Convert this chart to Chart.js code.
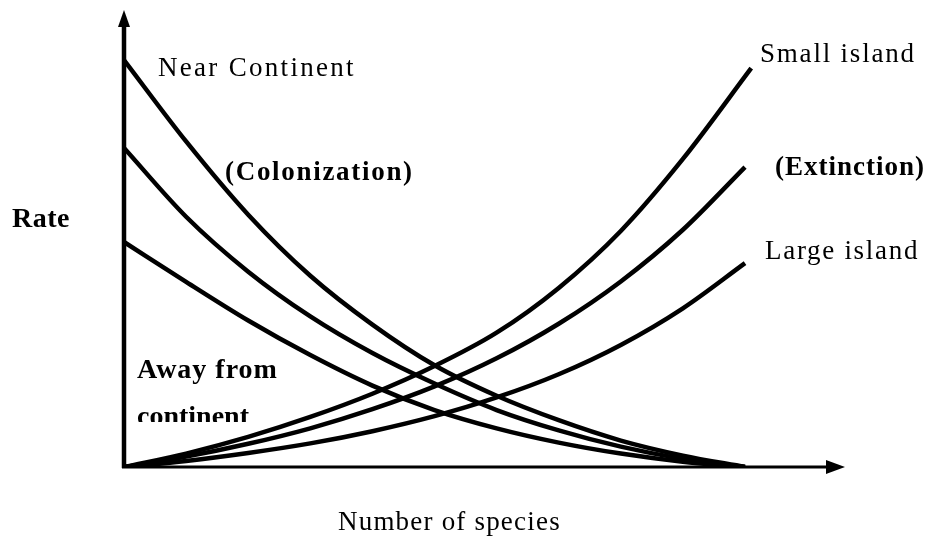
<!DOCTYPE html>
<html>
<head>
<meta charset="utf-8">
<script src="https://cdn.jsdelivr.net/npm/chart.js@4"></script>
<style>
  body { margin: 0; background: #fff; }
  #wrap { width: 928px; height: 537px; }
</style>
</head>
<body>
<div id="wrap"><canvas id="islandChart" width="928" height="537"></canvas></div>
<script>
// species count (x) at which each curve was read
var speciesX = [0, 10, 20, 30, 40, 50, 60, 70, 80, 90, 100];
var smallX   = [0, 10, 20, 30, 40, 50, 60, 70, 80, 90, 101];

// colonization (immigration) rates
var nearContinent = [100, 80, 62, 47, 35, 25, 17.5, 11.5, 6.5, 2.8, 0];
var midColonize   = [78.4, 61.5, 48, 37, 28, 20.5, 14, 9, 5, 2, 0];
var awayContinent = [55.3, 45.5, 36, 27.5, 20, 14, 9.5, 6, 3.3, 1.3, 0];

// extinction rates
var smallIsland   = [0, 3.3, 7.4, 12.3, 18, 24.8, 33, 44, 58, 75.7, 98];
var midExtinct    = [0, 2.55, 5.7, 9.5, 14.2, 19.8, 26.7, 35.2, 45.6, 58.3, 73.7];
var largeIsland   = [0, 1.5, 3.45, 5.8, 8.8, 12.5, 17.1, 22.8, 30, 39, 50.1];

var xAxisTitle = "Number of species";
var yAxisTitle = "Rate";

function pts(xs, ys) {
    var out = [];
    for (let i = 0; i < ys.length; i++) out.push({x: xs[i], y: ys[i]});
    return out;
}

function curve(label, xs, ys) {
    return {
        label: label,
        data: pts(xs, ys),
        borderColor: "#000",
        borderWidth: 4.5,
        pointRadius: 0,
        fill: false,
        cubicInterpolationMode: "monotone"
    };
}

// axes with arrow heads + the free text labels
var sketchPlugin = {
    id: "sketch",
    afterDatasetsDraw: function(chart) {
        var ctx = chart.ctx;
        var sx = chart.scales.x, sy = chart.scales.y;
        var x0 = sx.getPixelForValue(0), y0 = sy.getPixelForValue(0);
        var xEnd = sx.getPixelForValue(sx.max), yEnd = sy.getPixelForValue(sy.max);
        ctx.save();
        ctx.fillStyle = "#000";
        ctx.strokeStyle = "#000";
        // y axis
        ctx.lineWidth = 4.5;
        ctx.beginPath();
        ctx.moveTo(x0, y0 + 1);
        ctx.lineTo(x0, yEnd + 14);
        ctx.stroke();
        ctx.beginPath();
        ctx.moveTo(x0, yEnd);
        ctx.lineTo(x0 - 6, yEnd + 17);
        ctx.lineTo(x0 + 6, yEnd + 17);
        ctx.closePath();
        ctx.fill();
        // x axis
        ctx.lineWidth = 3;
        ctx.beginPath();
        ctx.moveTo(x0 - 2, y0);
        ctx.lineTo(xEnd - 14, y0);
        ctx.stroke();
        ctx.beginPath();
        ctx.moveTo(xEnd, y0);
        ctx.lineTo(xEnd - 19, y0 - 7);
        ctx.lineTo(xEnd - 19, y0 + 7);
        ctx.closePath();
        ctx.fill();

        function txt(s, x, y, font, spacing) {
            ctx.font = font;
            ctx.letterSpacing = (spacing || 0) + "px";
            ctx.fillText(s, x, y);
        }
        ctx.textBaseline = "alphabetic";
        txt("Near Continent", 158, 76, "27px 'Liberation Serif'", 2.3);
        txt("(Colonization)", 225, 180, "bold 27px 'Liberation Serif'", 1.7);
        txt(yAxisTitle, 12, 227, "bold 28px 'Liberation Serif'", 0.5);
        txt("Away from", 137, 378, "bold 28px 'Liberation Serif'", 1);
        txt("Small island", 760, 62, "27px 'Liberation Serif'", 1.8);
        txt("(Extinction)", 775, 175, "bold 27px 'Liberation Serif'", 1);
        txt("Large island", 765, 259, "27px 'Liberation Serif'", 1.7);
        txt(xAxisTitle, 338, 530, "27px 'Liberation Serif'", 1.2);
        // the second line is cut off in the original
        ctx.save();
        ctx.beginPath();
        ctx.rect(120, 395, 200, 27);
        ctx.clip();
        txt("continent", 137, 425, "bold 28px 'Liberation Serif'", 0);
        ctx.restore();
        ctx.restore();
    }
};

var config = {
    type: "line",
    data: {
        datasets: [
            curve("Near Continent", speciesX, nearContinent),
            curve("Colonization", speciesX, midColonize),
            curve("Away from continent", speciesX, awayContinent),
            curve("Small island", smallX, smallIsland),
            curve("Extinction", speciesX, midExtinct),
            curve("Large island", speciesX, largeIsland)
        ]
    },
    options: {
        responsive: false,
        animation: false,
        layout: { padding: { left: 124, right: 83, top: 10, bottom: 70 } },
        plugins: { legend: { display: false }, tooltip: { enabled: false } },
        scales: {
            x: { type: "linear", display: false, min: 0, max: 116.1 },
            y: { type: "linear", display: false, min: 0, max: 112.3 }
        }
    },
    plugins: [sketchPlugin]
};

new Chart(document.getElementById("islandChart"), config);
</script>
</body>
</html>
